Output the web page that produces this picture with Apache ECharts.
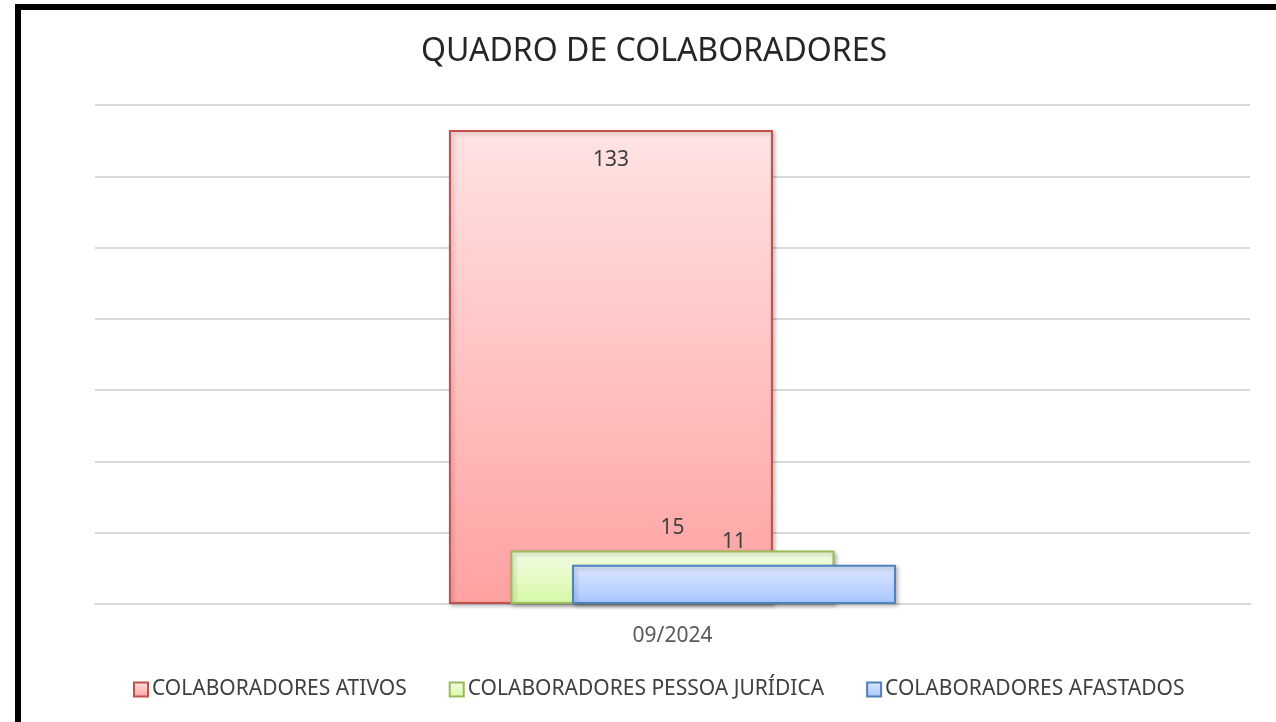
<!DOCTYPE html>
<html>
<head>
<meta charset="utf-8">
<script src="https://cdn.jsdelivr.net/npm/echarts@6/dist/echarts.min.js"></script>
<style>
  html, body { margin: 0; padding: 0; background: #fff; }
  #chart { width: 1276px; height: 722px; }
  #frame {
    position: absolute; left: 15px; top: 4px; right: 0; bottom: 0;
    border-left: 6px solid #000; border-top: 6px solid #000;
    pointer-events: none;
  }
</style>
</head>
<body>
<div id="chart"></div>
<div id="frame"></div>
<script>
  // dados do quadro
  const categories = ['09/2024']
  const seriesNames = ['COLABORADORES ATIVOS', 'COLABORADORES PESSOA JURÍDICA', 'COLABORADORES AFASTADOS']
  const ativos = [133]
  const pessoaJuridica = [15]
  const afastados = [11]

  const chart = echarts.init(document.getElementById('chart'))
  const fontFamily = '"Noto Sans", "Open Sans", sans-serif'

  function grad (top, bottom) {
    return new echarts.graphic.LinearGradient(0, 0, 0, 1, [
      { offset: 0, color: top },
      { offset: 1, color: bottom }
    ])
  }

  const shadow = {
    shadowBlur: 4,
    shadowColor: 'rgba(0,0,0,0.25)',
    shadowOffsetX: 2,
    shadowOffsetY: 2
  }

  const labelStyle = {
    show: true,
    fontSize: 21,
    color: '#404040',
    fontFamily: fontFamily
  }

  const option = {
    animation: false,
    title: {
      text: 'QUADRO DE COLABORADORES',
      left: 416,
      top: 31,
      textStyle: {
        fontSize: 32,
        fontWeight: 'normal',
        color: '#262626',
        fontFamily: fontFamily
      }
    },
    legend: {
      bottom: 17,
      left: 128,
      icon: 'rect',
      itemWidth: 14,
      itemHeight: 14,
      itemGap: 42,
      textStyle: {
        fontSize: 21,
        color: '#404040',
        fontFamily: fontFamily,
        padding: [0, 0, 0, -1]
      },
      data: seriesNames
    },
    grid: {
      left: 95,
      right: 26,
      top: 105,
      bottom: 118
    },
    xAxis: {
      type: 'category',
      data: categories,
      axisTick: { show: false },
      axisLine: { lineStyle: { color: '#d9d9d9', width: 2 } },
      axisLabel: {
        fontSize: 21,
        color: '#595959',
        fontFamily: fontFamily,
        margin: 22
      }
    },
    yAxis: {
      type: 'value',
      min: 0,
      max: 140,
      interval: 20,
      axisLabel: { show: false },
      axisLine: { show: false },
      axisTick: { show: false },
      splitLine: { lineStyle: { color: '#d9d9d9', width: 2 } }
    },
    series: [
      {
        name: seriesNames[0],
        type: 'bar',
        data: ativos,
        barWidth: 324,
        barGap: '-81%',
        itemStyle: Object.assign({
          color: grad('#ffe3e3', '#ffa1a1'),
          borderColor: '#c0504d',
          borderWidth: 2
        }, shadow),
        label: Object.assign({ position: 'insideTop', distance: 20 }, labelStyle)
      },
      {
        name: seriesNames[1],
        type: 'bar',
        data: pessoaJuridica,
        barWidth: 324,
        barGap: '-81%',
        itemStyle: Object.assign({
          color: grad('#f2fde4', '#d7f9a7'),
          borderColor: '#9bbb59',
          borderWidth: 2
        }, shadow),
        label: Object.assign({ position: 'top', distance: 12 }, labelStyle)
      },
      {
        name: seriesNames[2],
        type: 'bar',
        data: afastados,
        barWidth: 324,
        barGap: '-81%',
        itemStyle: Object.assign({
          color: grad('#dde7ff', '#a6c6ff'),
          borderColor: '#4f81bd',
          borderWidth: 2
        }, shadow),
        label: Object.assign({ position: 'top', distance: 12 }, labelStyle)
      }
    ]
  }

  chart.setOption(option)
</script>
</body>
</html>
